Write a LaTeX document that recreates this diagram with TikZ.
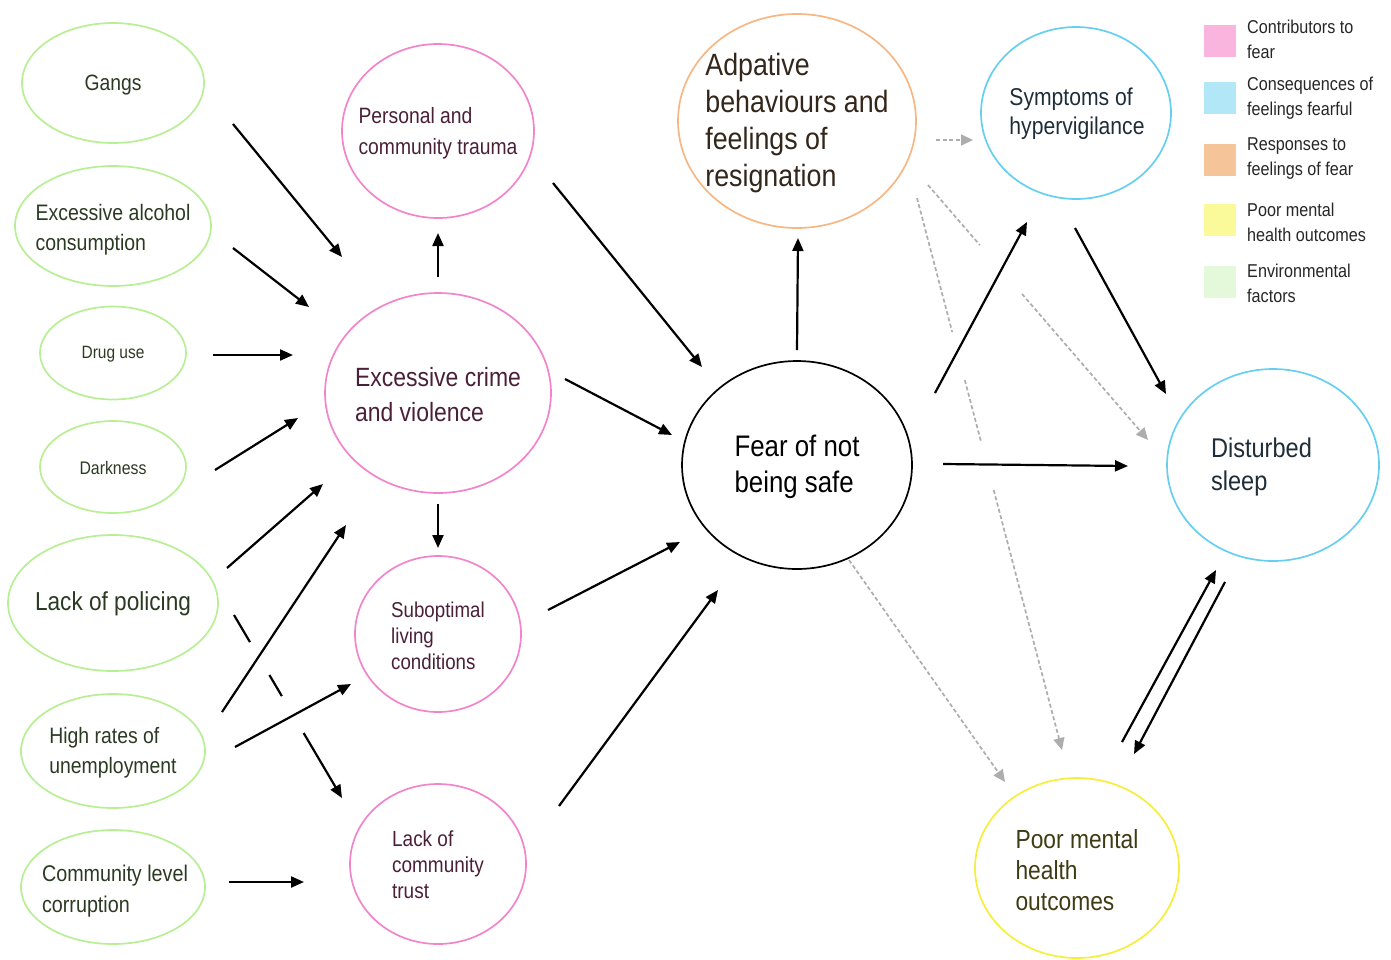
\documentclass[tikz,border=0pt]{standalone}
\usepackage{fontspec}
\setmainfont{Liberation Sans}[FakeStretch=0.87]
\usetikzlibrary{arrows.meta,shapes.geometric,calc}

% ellipse borders
\definecolor{envC}{HTML}{B8EE94}
\definecolor{contC}{HTML}{F284CC}
\definecolor{respC}{HTML}{F6B784}
\definecolor{consC}{HTML}{66CFF1}
\definecolor{mentC}{HTML}{F6EE3A}
% legend swatches
\definecolor{contL}{HTML}{F9B5DE}
\definecolor{consL}{HTML}{B2E7F7}
\definecolor{respL}{HTML}{F6C499}
\definecolor{mentL}{HTML}{FBFA9A}
\definecolor{envL}{HTML}{E4F8DA}
% text colours
\definecolor{envT}{HTML}{2B3A22}
\definecolor{contT}{HTML}{4A2038}
\definecolor{respT}{HTML}{33261A}
\definecolor{consT}{HTML}{1E2D38}
\definecolor{mentT}{HTML}{3F3B14}
\definecolor{dashC}{HTML}{ADADAD}

\newcommand\setfs[2]{\fontsize{#1}{#2}\selectfont}

\begin{document}
\begin{tikzpicture}[x=1pt,y=-1pt,
  ell/.style 2 args={ellipse, minimum width=#1, minimum height=#2, inner sep=0pt, line width=1.7pt},
  lbl/.style={align=left, inner sep=0pt},
  arr/.style={line width=2.2pt, -{Triangle[length=13pt,width=11pt]}},
  darr/.style={line width=1.7pt, dashC, dash pattern=on 4pt off 2.5pt,
    -{Triangle[length=12pt,width=11pt]}},
  swatch/.style={minimum width=32pt, minimum height=32pt, inner sep=0pt},
  legtxt/.style={lbl, anchor=west, text=black!85, font=\setfs{18.6}{25}}
]
\useasboundingbox (0,0) rectangle (1391,959);

% ---------- environmental factors ----------
\node[ell={182}{120}, draw=envC] (gangs) at (113,83) {};
\node[lbl, text=envT, font=\setfs{22.2}{30}] (gangs-t) at (113,85) {Gangs};

\node[ell={196}{120}, draw=envC] (alc) at (113,226) {};
\node[lbl, text=envT, font=\setfs{22.4}{30}] (alc-t) at (113,230) {Excessive alcohol\\consumption};

\node[ell={146}{93}, draw=envC] (drug) at (113,353) {};
\node[lbl, text=envT, font=\setfs{17.8}{22}] (drug-t) at (113,354) {Drug use};

\node[ell={146}{92}, draw=envC] (dark) at (113,467) {};
\node[lbl, text=envT, font=\setfs{18.2}{22}] (dark-t) at (113,468) {Darkness};

\node[ell={210}{136}, draw=envC] (pol) at (113,603) {};
\node[lbl, text=envT, font=\setfs{26}{32}] (pol-t) at (113,604) {Lack of policing};

\node[ell={184}{114}, draw=envC] (high) at (113,751) {};
\node[lbl, text=envT, font=\setfs{22.3}{30}] (high-t) at (113,753) {High rates of\\unemployment};

\node[ell={184}{114}, draw=envC] (corr) at (113,887) {};
\node[lbl, text=envT, font=\setfs{22.7}{31}] (corr-t) at (115,891) {Community level\\corruption};

% ---------- contributors to fear ----------
\node[ell={192}{174}, draw=contC] (trauma) at (438,131) {};
\node[lbl, text=contT, font=\setfs{22.2}{31}] (trauma-t) at (438,133) {Personal and\\community trauma};

\node[ell={226}{200}, draw=contC] (crime) at (438,393) {};
\node[lbl, text=contT, font=\setfs{26.4}{35}] (crime-t) at (438,395) {Excessive crime\\and violence};

\node[ell={166}{156}, draw=contC] (sub) at (438,634) {};
\node[lbl, text=contT, font=\setfs{21.5}{26}] (sub-t) at (438,636) {Suboptimal\\living\\conditions};

\node[ell={176}{160}, draw=contC] (trust) at (438,864) {};
\node[lbl, text=contT, font=\setfs{21.8}{26}] (trust-t) at (438,865) {Lack of\\community\\trust};

% ---------- centre ----------
\node[ell={230}{208}, draw=black] (fear) at (797,465) {};
\node[lbl, text=black, font=\setfs{29.7}{36}] (fear-t) at (797,467) {Fear of not\\being safe};

\node[ell={238}{214}, draw=respC] (adapt) at (797,121) {};
\node[lbl, text=respT, font=\setfs{30.8}{37}] (adapt-t) at (797,123) {Adpative\\behaviours and\\feelings of\\resignation};

% ---------- consequences ----------
\node[ell={190}{172}, draw=consC] (symp) at (1076,113) {};
\node[lbl, text=consT, font=\setfs{24.3}{29}] (symp-t) at (1077,114) {Symptoms of\\hypervigilance};

\node[ell={212}{192}, draw=consC] (sleep) at (1273,465) {};
\node[lbl, text=consT, font=\setfs{27.1}{33}, text width=124pt] (sleep-t) at (1273,467) {Disturbed\\sleep};

\node[ell={204}{180}, draw=mentC] (mental) at (1077,868) {};
\node[lbl, text=mentT, font=\setfs{26.2}{31}] (mental-t) at (1077,870) {Poor mental\\health\\outcomes};

% ---------- legend ----------
\node[swatch, fill=contL] (lg1) at (1220,41) {};
\node[legtxt] (lg1-t) at (1247,39) {Contributors to\\fear};
\node[swatch, fill=consL] (lg2) at (1220,98) {};
\node[legtxt] (lg2-t) at (1247,98) {Consequences of\\feelings fearful};
\node[swatch, fill=respL] (lg3) at (1220,160) {};
\node[legtxt] (lg3-t) at (1247,159) {Responses to\\feelings of fear};
\node[swatch, fill=mentL] (lg4) at (1220,219.5) {};
\node[legtxt] (lg4-t) at (1247,222) {Poor mental\\health outcomes};
\node[swatch, fill=envL] (lg5) at (1220,281.5) {};
\node[legtxt] (lg5-t) at (1247,283) {Environmental\\factors};

% ---------- connector end points ----------
\coordinate (gangs-o) at (233,124);  \coordinate (crime-i1) at (342,257);
\coordinate (alc-o) at (233,248);    \coordinate (crime-i2) at (309,307);
\coordinate (drug-o) at (213,355);   \coordinate (crime-i3) at (293,355);
\coordinate (dark-o) at (215,470);   \coordinate (crime-i4) at (298,418);
\coordinate (pol-o1) at (227,568);   \coordinate (crime-i5) at (323,484);
\coordinate (high-o1) at (222,712);  \coordinate (crime-i6) at (346,525);
\coordinate (pol-o2) at (234,615);   \coordinate (trust-i1) at (342,798);
\coordinate (high-o2) at (235,747);  \coordinate (sub-i1) at (351,684);
\coordinate (corr-o) at (229,882);   \coordinate (trust-i2) at (304,882);
\coordinate (crime-o1) at (438,277); \coordinate (trauma-i) at (438,233);
\coordinate (crime-o2) at (438,504); \coordinate (sub-i2) at (438,548);
\coordinate (trauma-o) at (553,183); \coordinate (fear-i1) at (702,367);
\coordinate (crime-o3) at (565,379); \coordinate (fear-i2) at (672,435);
\coordinate (sub-o) at (548,610);    \coordinate (fear-i3) at (680,542);
\coordinate (trust-o) at (559,806);  \coordinate (fear-i4) at (718,590);
\coordinate (fear-o1) at (797,350);  \coordinate (adapt-i) at (798,238);
\coordinate (fear-o2) at (935,393);  \coordinate (symp-i1) at (1027,222);
\coordinate (fear-o3) at (943,464);  \coordinate (sleep-i1) at (1128,466);
\coordinate (symp-o) at (1075,228);  \coordinate (sleep-i2) at (1166,394);
\coordinate (mental-o) at (1122,742); \coordinate (sleep-i3) at (1216,570);
\coordinate (sleep-o) at (1225,582); \coordinate (mental-i1) at (1134,754);
\coordinate (adapt-o1) at (936,140); \coordinate (symp-i2) at (973,140);
\coordinate (adapt-o2) at (928,185); \coordinate (sleep-i4) at (1148,440);
\coordinate (adapt-o3) at (917,198); \coordinate (mental-i2) at (1062,750);
\coordinate (fear-o4) at (849,560);  \coordinate (mental-i3) at (1005,782);

% ---------- solid connectors ----------
\draw[arr] (gangs-o) -- (crime-i1);
\draw[arr] (alc-o) -- (crime-i2);
\draw[arr] (drug-o) -- (crime-i3);
\draw[arr] (dark-o) -- (crime-i4);
\draw[arr] (pol-o1) -- (crime-i5);
\draw[arr] (high-o1) -- (crime-i6);
\draw[arr] (high-o2) -- (sub-i1);
\draw[arr] (corr-o) -- (trust-i2);
% passes under the two unemployment arrows
\draw[arr] (pol-o2) -- ($(pol-o2)!0.148!(trust-i1)$)
  ($(pol-o2)!0.328!(trust-i1)$) -- ($(pol-o2)!0.443!(trust-i1)$)
  ($(pol-o2)!0.645!(trust-i1)$) -- (trust-i1);
\draw[arr] (crime-o1) -- (trauma-i);
\draw[arr] (crime-o2) -- (sub-i2);
\draw[arr] (trauma-o) -- (fear-i1);
\draw[arr] (crime-o3) -- (fear-i2);
\draw[arr] (sub-o) -- (fear-i3);
\draw[arr] (trust-o) -- (fear-i4);
\draw[arr] (fear-o1) -- (adapt-i);
\draw[arr] (fear-o2) -- (symp-i1);
\draw[arr] (fear-o3) -- (sleep-i1);
\draw[arr] (symp-o) -- (sleep-i2);
\draw[arr] (mental-o) -- (sleep-i3);
\draw[arr] (sleep-o) -- (mental-i1);

% ---------- dashed connectors ----------
\draw[darr] (adapt-o1) -- (symp-i2);
\draw[darr] (adapt-o2) -- ($(adapt-o2)!0.236!(sleep-i4)$)
  ($(adapt-o2)!0.427!(sleep-i4)$) -- (sleep-i4);
\draw[darr] (adapt-o3) -- ($(adapt-o3)!0.243!(mental-i2)$)
  ($(adapt-o3)!0.33!(mental-i2)$) -- ($(adapt-o3)!0.442!(mental-i2)$)
  ($(adapt-o3)!0.529!(mental-i2)$) -- (mental-i2);
\draw[darr] (fear-o4) -- (mental-i3);
\end{tikzpicture}
\end{document}
